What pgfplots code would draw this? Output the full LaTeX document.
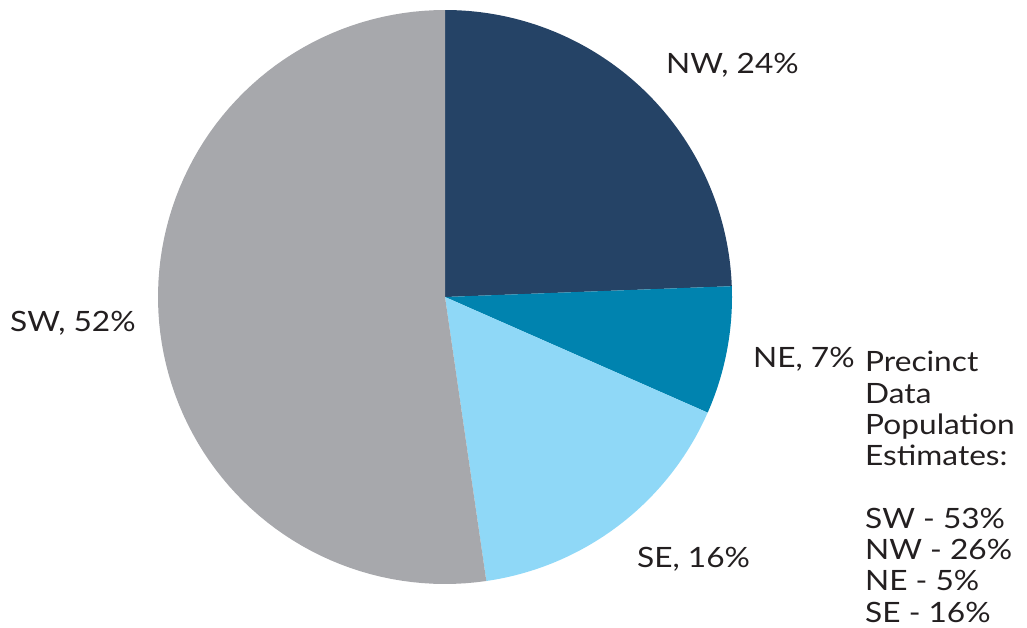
\documentclass[border=0pt]{standalone}
\usepackage{fontspec}
\setmainfont{Lato}[FakeStretch=1.13]
\usepackage{pgfplots}
\pgfplotsset{compat=1.18}
\definecolor{nwBlue}{HTML}{254366}
\definecolor{neBlue}{HTML}{0083AF}
\definecolor{seBlue}{HTML}{8FD8F7}
\definecolor{swGrey}{HTML}{A7A8AC}
\definecolor{txt}{HTML}{231F20}

\tikzset{lbl/.style={anchor=base west, font=\fontsize{28}{31}\selectfont,
  text=txt, inner sep=0pt}}

% shares in percent, clockwise from 12 o'clock
\def\nw{24.4}
\def\ne{7.2}
\def\se{16.1}
\def\sw{52.3}
\pgfmathsetmacro\aA{90}
\pgfmathsetmacro\aB{\aA-3.6*\nw}
\pgfmathsetmacro\aC{\aB-3.6*\ne}
\pgfmathsetmacro\aD{\aC-3.6*\se}
\pgfmathsetmacro\aE{\aD-3.6*\sw}

\begin{document}
\begin{tikzpicture}
\useasboundingbox (0,0) rectangle (1027pt,627pt);
\begin{axis}[
  scale only axis, width=1027pt, height=627pt,
  xmin=0, xmax=1027, ymin=-627, ymax=0,
  hide axis, clip=false,
  variable=\t, samples=90]
\addplot[fill=nwBlue, draw=none, domain=\aB:\aA]
  ({445+287*cos(\t)},{-297+287*sin(\t)}) -- (445,-297) -- cycle;
\addplot[fill=neBlue, draw=none, domain=\aC:\aB]
  ({445+287*cos(\t)},{-297+287*sin(\t)}) -- (445,-297) -- cycle;
\addplot[fill=seBlue, draw=none, domain=\aD:\aC]
  ({445+287*cos(\t)},{-297+287*sin(\t)}) -- (445,-297) -- cycle;
\addplot[fill=swGrey, draw=none, domain=\aE:\aD]
  ({445+287*cos(\t)},{-297+287*sin(\t)}) -- (445,-297) -- cycle;

\node[lbl] at (666,-74) {NW, 24\%};
\node[lbl] at (753,-368) {NE, 7\%};
\node[lbl] at (637,-567) {SE, 16\%};
\node[lbl] at (10,-332) {SW, 52\%};

\node[lbl] at (865,-372) {Precinct};
\node[lbl] at (865,-403.25) {Data};
\node[lbl] at (865,-434.5) {Population};
\node[lbl] at (865,-465.75) {Estimates:};
\node[lbl] at (865,-528.25) {SW - 53\%};
\node[lbl] at (865,-559.5) {NW - 26\%};
\node[lbl] at (865,-590.75) {NE - 5\%};
\node[lbl] at (865,-622) {SE - 16\%};
\end{axis}
\end{tikzpicture}
\end{document}
